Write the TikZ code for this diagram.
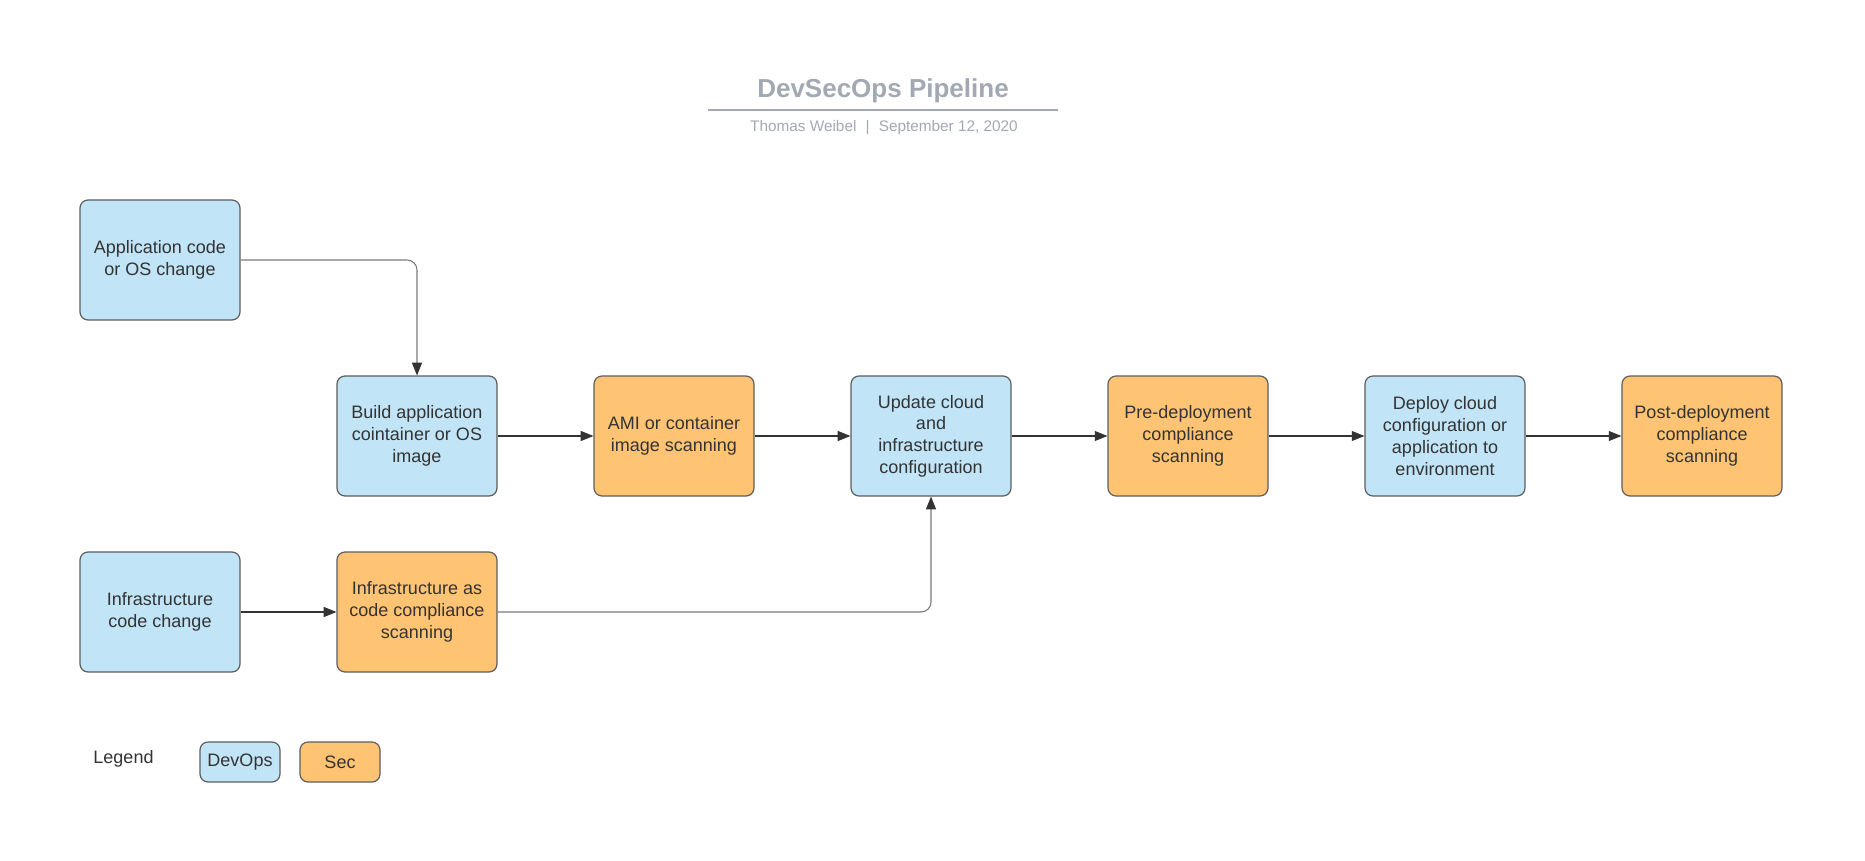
\documentclass[tikz,border=0pt]{standalone}
\usepackage{fontspec}
\setmainfont{Liberation Sans}
\usetikzlibrary{arrows.meta}
\definecolor{devblue}{HTML}{C1E4F7}
\definecolor{secorange}{HTML}{FFC374}
\definecolor{boxline}{HTML}{5E5E5E}
\definecolor{txt}{HTML}{333333}
\definecolor{titlegray}{HTML}{A3A9B3}
\definecolor{wiregray}{HTML}{7A7A7A}
\begin{document}
\begin{tikzpicture}[x=0.75pt,y=-0.75pt,
  box/.style={draw=boxline, line width=0.9pt, rounded corners=6pt,
    minimum width=120pt, minimum height=90pt, align=center, inner sep=0pt,
    font=\fontsize{13.5}{16.3}\selectfont, text=txt},
  devops/.style={box, fill=devblue},
  sec/.style={box, fill=secorange},
  legbox/.style={minimum width=60pt, minimum height=30pt},
  tip/.style={-{Triangle[length=9.5pt,width=7.5pt,color=txt]}},
  flow/.style={draw=txt, line width=0.8pt, tip},
  feed/.style={draw=wiregray, line width=0.8pt, rounded corners=7.5pt, tip},
  plain/.style={font=\fontsize{13.5}{16.3}\selectfont, text=txt, inner sep=0pt}
]
\useasboundingbox[fill=white] (0,0) rectangle (1865,860);

% title
\node[anchor=base, text=titlegray, font=\fontsize{19.5}{23}\selectfont\bfseries, inner sep=0pt] (title) at (883,97.5) {DevSecOps Pipeline};
\coordinate (tl) at (708,110);
\coordinate (tr) at (1058,110);
\draw[titlegray, line width=1.1pt] (tl) -- (tr);
\node[anchor=base, text=titlegray, font=\fontsize{11.5}{14}\selectfont, inner sep=0pt] (sub) at (884,131.7) {Thomas Weibel\hspace{0.6em}|\hspace{0.6em}September 12, 2020};

% nodes
\node[devops] (app) at (160,260) {Application code\\or OS change};
\node[devops] (build) at (417,436) {Build application\\cointainer or OS\\image};
\node[sec] (ami) at (674,436) {AMI or container\\image scanning};
\node[devops] (update) at (931,436) {Update cloud\\and\\infrastructure\\configuration};
\node[sec] (pre) at (1188,436) {Pre-deployment\\compliance\\scanning};
\node[devops] (deploy) at (1445,436) {Deploy cloud\\configuration or\\application to\\environment};
\node[sec] (post) at (1702,436) {Post-deployment\\compliance\\scanning};
\node[devops] (infra) at (160,612) {Infrastructure\\code change};
\node[sec] (iac) at (417,612) {Infrastructure as\\code compliance\\scanning};

% connectors
\draw[feed] (app.east) -| (build.north);
\draw[flow] (build.east) -- (ami.west);
\draw[flow] (ami.east) -- (update.west);
\draw[flow] (update.east) -- (pre.west);
\draw[flow] (pre.east) -- (deploy.west);
\draw[flow] (deploy.east) -- (post.west);
\draw[flow] (infra.east) -- (iac.west);
\draw[feed] (iac.east) -| (update.south);

% legend
\node[plain] (legend) at (123.5,759) {Legend};
\node[devops, legbox] (legdev) at (240,762) {DevOps};
\node[sec, legbox] (legsec) at (340,762) {Sec};
\end{tikzpicture}
\end{document}
